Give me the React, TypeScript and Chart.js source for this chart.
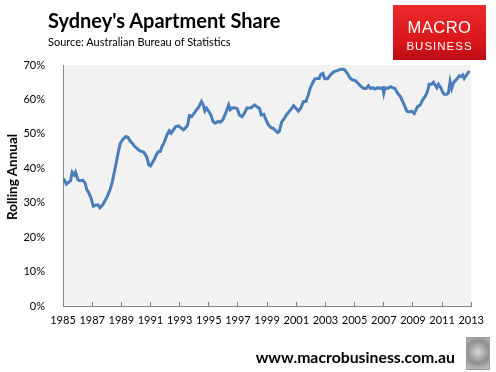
import React, { useEffect, useRef } from "react";
import { Chart, registerables } from "chart.js";

Chart.register(...registerables);

// Decimal year of each reading
const years: number[] = [
  1985.0, 1985.11, 1985.23, 1985.38, 1985.52, 1985.63, 1985.77, 1985.86, 1986.02, 1986.13,
  1986.36, 1986.52, 1986.63, 1986.76, 1986.92, 1987.08, 1987.26, 1987.42, 1987.53, 1987.71,
  1987.9, 1988.05, 1988.23, 1988.39, 1988.53, 1988.67, 1988.8, 1988.94, 1989.12, 1989.3,
  1989.46, 1989.59, 1989.75, 1989.93, 1990.09, 1990.25, 1990.38, 1990.54, 1990.66, 1990.77,
  1990.88, 1991.0, 1991.11, 1991.24, 1991.38, 1991.51, 1991.67, 1991.79, 1991.95, 1992.13,
  1992.29, 1992.42, 1992.58, 1992.74, 1992.92, 1993.1, 1993.26, 1993.42, 1993.55, 1993.67,
  1993.82, 1994.0, 1994.16, 1994.32, 1994.5, 1994.62, 1994.73, 1994.84, 1995.0, 1995.14,
  1995.29, 1995.45, 1995.63, 1995.81, 1995.97, 1996.2, 1996.36, 1996.47, 1996.61, 1996.77,
  1996.95, 1997.1, 1997.28, 1997.44, 1997.62, 1997.9, 1998.14, 1998.3, 1998.48, 1998.59,
  1998.77, 1998.93, 1999.09, 1999.27, 1999.43, 1999.55, 1999.73, 1999.84, 2000.0, 2000.18,
  2000.36, 2000.59, 2000.82, 2000.98, 2001.14, 2001.32, 2001.5, 2001.66, 2001.82, 2001.95,
  2002.11, 2002.27, 2002.45, 2002.57, 2002.68, 2002.82, 2002.95, 2003.14, 2003.36, 2003.59,
  2003.77, 2003.93, 2004.16, 2004.32, 2004.5, 2004.68, 2004.84, 2005.07, 2005.23, 2005.5,
  2005.64, 2005.8, 2005.95, 2006.09, 2006.25, 2006.41, 2006.59, 2006.77, 2006.93, 2007.0,
  2007.09, 2007.27, 2007.45, 2007.61, 2007.77, 2007.95, 2008.14, 2008.3, 2008.45, 2008.59,
  2008.75, 2008.91, 2009.09, 2009.2, 2009.32, 2009.5, 2009.66, 2009.82, 2009.95, 2010.05,
  2010.11, 2010.27, 2010.41, 2010.52, 2010.64, 2010.75, 2010.91, 2011.02, 2011.14, 2011.32,
  2011.43, 2011.55, 2011.66, 2011.77, 2011.89, 2012.05, 2012.18, 2012.3, 2012.41, 2012.52,
  2012.64, 2012.77, 2012.86,
];

// Apartment share, rolling annual (%)
const shares: number[] = [
  37.0, 36.5, 35.4, 35.9, 36.4, 38.9, 38.1, 38.9, 36.7, 36.4,
  36.5, 35.7, 33.8, 33.0, 31.4, 29.0, 29.3, 29.3, 28.5, 29.3,
  30.7, 31.9, 33.8, 36.2, 39.1, 42.0, 44.9, 47.3, 48.5, 49.2,
  49.0, 48.0, 47.3, 46.3, 45.7, 45.1, 44.9, 44.7, 43.9, 43.0,
  41.0, 40.7, 41.5, 42.4, 43.7, 44.7, 44.9, 46.3, 47.6, 49.7,
  50.9, 50.2, 51.2, 52.1, 52.3, 51.7, 51.2, 51.8, 52.6, 55.3,
  55.0, 56.0, 57.0, 57.9, 59.4, 58.4, 56.7, 57.5, 56.5, 55.5,
  53.6, 53.1, 53.6, 53.4, 54.1, 56.5, 58.4, 57.0, 57.5, 57.6,
  57.3, 55.5, 55.0, 56.0, 57.5, 57.6, 58.4, 57.9, 57.4, 55.5,
  55.7, 54.0, 52.6, 51.8, 51.6, 51.1, 50.4, 50.8, 53.5, 54.5,
  55.7, 56.9, 58.2, 57.4, 56.6, 57.6, 59.4, 59.4, 61.3, 63.2,
  64.7, 66.0, 66.1, 66.1, 67.3, 67.6, 66.0, 66.0, 67.2, 68.1,
  68.3, 68.6, 68.8, 68.6, 67.6, 66.3, 65.7, 65.4, 64.7, 63.5,
  63.2, 63.2, 64.0, 63.2, 63.4, 63.0, 63.4, 63.2, 63.4, 61.8,
  63.4, 63.2, 63.7, 63.4, 63.2, 61.8, 60.8, 59.4, 57.9, 56.6,
  56.4, 56.6, 55.9, 56.9, 57.9, 58.4, 59.8, 60.8, 61.8, 63.2,
  64.4, 64.4, 65.0, 64.2, 63.4, 64.4, 63.4, 62.3, 61.5, 61.5,
  61.8, 65.2, 63.2, 64.7, 65.4, 66.1, 66.9, 66.6, 67.1, 66.1,
  66.9, 67.6, 68.3,
];

const xTickYears: number[] = [1985, 1987, 1989, 1991, 1993, 1995, 1997, 1999, 2001, 2003, 2005, 2007, 2009, 2011, 2013];
const yTickValues: number[] = [0, 10, 20, 30, 40, 50, 60, 70];

const FONT = "Lato, 'Open Sans', sans-serif";

const plotBg = {
  id: "plotBg",
  beforeDraw(chart: any) {
    const { ctx, chartArea } = chart;
    ctx.save();
    ctx.fillStyle = "#f2f2f2";
    ctx.fillRect(chartArea.left, chartArea.top, chartArea.right - chartArea.left, chartArea.bottom - chartArea.top);
    ctx.restore();
  },
};

export default function App() {
  const ref = useRef<HTMLCanvasElement | null>(null);

  useEffect(() => {
    if (!ref.current) return;
    const chart = new Chart(ref.current, {
      type: "line",
      data: {
        datasets: [
          {
            data: years.map((x, i) => ({ x, y: shares[i] })),
            borderColor: "#4a7ebb",
            borderWidth: 3,
            pointRadius: 0,
            tension: 0,
            fill: false,
          },
        ],
      },
      options: {
        animation: false,
        responsive: true,
        maintainAspectRatio: false,
        layout: { padding: { left: 0, top: 65, right: 20, bottom: 0 } },
        plugins: { legend: { display: false }, tooltip: { enabled: false } },
        scales: {
          x: {
            type: "linear",
            min: 1985,
            max: 2013,
            afterBuildTicks: (s: any) => {
              s.ticks = xTickYears.map((v) => ({ value: v }));
            },
            afterFit: (s: any) => {
              s.height = 66;
            },
            ticks: {
              autoSkip: false,
              maxRotation: 0,
              padding: 12,
              color: "#000",
              font: { family: FONT, size: 11 },
              callback: (v: any) => String(v),
            },
            grid: { drawOnChartArea: false, tickLength: -4, color: "#868686" },
            border: { color: "#868686", width: 1 },
          },
          y: {
            min: 0,
            max: 70,
            afterBuildTicks: (s: any) => {
              s.ticks = yTickValues.map((v) => ({ value: v }));
            },
            afterFit: (s: any) => {
              s.width = 63;
            },
            ticks: {
              padding: 10,
              color: "#000",
              font: { family: FONT, size: 11 },
              callback: (v: any) => v + "%",
            },
            grid: { display: false },
            border: { color: "#868686", width: 1 },
          },
        },
      },
      plugins: [plotBg],
    });
    return () => chart.destroy();
  }, []);

  return (
    <div style={{ position: "fixed", left: 0, top: 0, width: 496, height: 372, background: "#fff", overflow: "hidden" }}>
      <canvas ref={ref} />
      <div style={{ position: "absolute", left: 48, top: 8, fontFamily: FONT, fontWeight: 700, fontSize: 20, color: "#000", whiteSpace: "nowrap" }}>
        Sydney's Apartment Share
      </div>
      <div style={{ position: "absolute", left: 48, top: 35, fontFamily: FONT, fontSize: 11, color: "#000", whiteSpace: "nowrap" }}>
        Source: Australian Bureau of Statistics
      </div>
      <div
        style={{
          position: "absolute",
          left: 393,
          top: 5,
          width: 93,
          height: 55,
          background: "linear-gradient(180deg, #ec2a2c 0%, #d8151a 70%, #b80d12 100%)",
          color: "#fff",
          fontFamily: "'Liberation Sans', Arial, sans-serif",
          textAlign: "center",
        }}
      >
        <div style={{ position: "absolute", left: 0, right: 0, top: 13, fontSize: 16.5, lineHeight: "18px", letterSpacing: 0.5 }}>MACRO</div>
        <div style={{ position: "absolute", left: 0, right: 0, top: 35, fontSize: 11.5, lineHeight: "12px", letterSpacing: 1 }}>BUSINESS</div>
      </div>
      <div
        style={{
          position: "absolute",
          left: 12,
          top: 177,
          transform: "translate(-50%, -50%) rotate(-90deg)",
          fontFamily: FONT,
          fontWeight: 700,
          fontSize: 13.5,
          whiteSpace: "nowrap",
          color: "#000",
        }}
      >
        Rolling Annual
      </div>
      <div style={{ position: "absolute", right: 41, top: 347, fontFamily: FONT, fontWeight: 700, fontSize: 15.8, color: "#000", whiteSpace: "nowrap" }}>
        www.macrobusiness.com.au
      </div>
      <div
        style={{
          position: "absolute",
          left: 466,
          top: 337,
          width: 24,
          height: 33,
          border: "1px solid #9a9a9a",
          background: "radial-gradient(circle at 50% 45%, #d8d8d8 0%, #8f8f8f 55%, #c8c8c8 100%)",
          boxSizing: "border-box",
        }}
      />
    </div>
  );
}
